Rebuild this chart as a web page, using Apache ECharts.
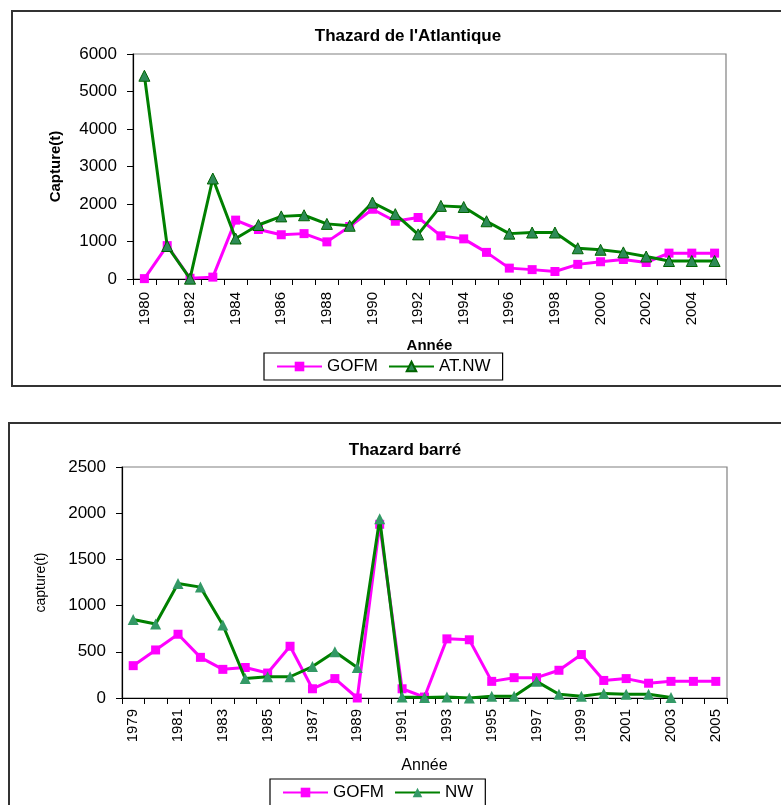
<!DOCTYPE html>
<html>
<head>
<meta charset="utf-8">
<script src="https://cdn.jsdelivr.net/npm/echarts@6/dist/echarts.min.js"></script>
<style>
html,body{margin:0;padding:0;background:#fff;}
#c{width:781px;height:805px;}
</style>
</head>
<body>
<div id="c"></div>
<script>
// ---- Top chart: Thazard de l'Atlantique ----
const yearsTop = ['1980','1981','1982','1983','1984','1985','1986','1987','1988','1989','1990','1991','1992','1993','1994','1995','1996','1997','1998','1999','2000','2001','2002','2003','2004','2005'];
const gofmTop = [10,890,20,50,1570,1320,1180,1210,990,1400,1860,1540,1640,1150,1070,710,290,250,200,390,460,520,440,690,690,690];
const atnwTop = [5420,880,10,2680,1080,1440,1670,1700,1470,1420,2040,1730,1190,1950,1920,1540,1210,1240,1240,820,780,710,600,480,480,480];
const yTicksTop = [0,1000,2000,3000,4000,5000,6000];

// ---- Bottom chart: Thazard barré ----
const yearsBot = ['1979','1980','1981','1982','1983','1984','1985','1986','1987','1988','1989','1990','1991','1992','1993','1994','1995','1996','1997','1998','1999','2000','2001','2002','2003','2004','2005'];
const gofmBot = [350,520,690,440,310,330,270,560,100,210,0,1880,100,10,640,630,180,220,220,300,470,190,210,160,180,180,180];
const nwBot = [850,800,1240,1200,790,210,230,230,340,500,330,1940,10,5,10,0,20,20,180,40,20,50,40,40,5,null,null];
const yTicksBot = [0,500,1000,1500,2000,2500];

const FONT = '"Liberation Sans", Arial, sans-serif';
const PINK = '#FF00FF';
const GREEN = '#008000';

const chart = echarts.init(document.getElementById('c'), null, {renderer:'canvas'});

function xAxisCfg(gridIndex, data, nameGap, bold, nameSize, labelMargin){
  return {
    type:'category', gridIndex, data, boundaryGap:true,
    name:'Année', nameLocation:'middle', nameGap,
    nameTextStyle:{fontFamily:FONT, fontSize:nameSize, fontWeight:bold?'bold':'normal', color:'#000'},
    axisLine:{show:true, lineStyle:{color:'#000', width:1.2}},
    axisTick:{show:true, interval:0, length:6, lineStyle:{color:'#000'}},
    axisLabel:{interval:1, rotate:90, margin:labelMargin, fontFamily:FONT, fontSize:15, color:'#000'},
    splitLine:{show:false}
  };
}
function yAxisCfg(gridIndex, ticks, name, nameGap, bold, nameSize){
  return {
    type:'value', gridIndex, min:ticks[0], max:ticks[ticks.length-1], interval:ticks[1]-ticks[0],
    name, nameLocation:'middle', nameGap, nameRotate:90,
    nameTextStyle:{fontFamily:FONT, fontSize:nameSize, fontWeight:bold?'bold':'normal', color:'#000'},
    axisLine:{show:true, lineStyle:{color:'#000', width:1.2}},
    axisTick:{show:true, length:6, lineStyle:{color:'#000'}},
    axisLabel:{margin:16, fontFamily:FONT, fontSize:17, color:'#000', formatter:(v)=>String(v)},
    splitLine:{show:false}
  };
}

const option = {
  animation:false,
  backgroundColor:'#fff',
  title:[
    {text:"Thazard de l'Atlantique", left:403, top:23, textAlign:'center',
     textStyle:{fontFamily:FONT, fontSize:17, fontWeight:'bold', color:'#000'}},
    {text:'Thazard barré', left:400, top:437, textAlign:'center',
     textStyle:{fontFamily:FONT, fontSize:17, fontWeight:'bold', color:'#000'}}
  ],
  grid:[
    {left:133, top:54, width:593, height:225, show:true, borderColor:'#808080', borderWidth:1.2, backgroundColor:'transparent'},
    {left:122, top:467, width:605, height:231, show:true, borderColor:'#808080', borderWidth:1.2, backgroundColor:'transparent'}
  ],
  xAxis:[
    xAxisCfg(0, yearsTop, 59, true, 15, 13),
    xAxisCfg(1, yearsBot, 60, false, 16, 11)
  ],
  yAxis:[
    yAxisCfg(0, yTicksTop, 'Capture(t)', 70, true, 15),
    yAxisCfg(1, yTicksBot, 'capture(t)', 74, false, 14)
  ],
  legend:[
    {data:['GOFM','AT.NW'], left:264, top:353, orient:'horizontal',
     itemWidth:45, itemHeight:12, itemGap:10, padding:[5,12,5,12],
     borderColor:'#000', borderWidth:1.2, backgroundColor:'#fff',
     textStyle:{fontFamily:FONT, fontSize:17, color:'#000'}},
    {data:['GOFM','NW'], left:270, top:779, orient:'horizontal',
     itemWidth:45, itemHeight:12, itemGap:10, padding:[5,12,5,12],
     borderColor:'#000', borderWidth:1.2, backgroundColor:'#fff',
     textStyle:{fontFamily:FONT, fontSize:17, color:'#000'}}
  ],
  graphic:[
    {type:'rect', shape:{x:12, y:11, width:800, height:375}, style:{fill:'none', stroke:'#333', lineWidth:2}, silent:true, z:-1},
    {type:'rect', shape:{x:9, y:423, width:800, height:420}, style:{fill:'none', stroke:'#333', lineWidth:2}, silent:true, z:-1}
  ],
  series:[
    {name:'GOFM', type:'line', xAxisIndex:0, yAxisIndex:0, data:gofmTop,
     symbol:'rect', symbolSize:9, lineStyle:{color:PINK, width:3}, itemStyle:{color:PINK}, z:2},
    {name:'AT.NW', type:'line', xAxisIndex:0, yAxisIndex:0, data:atnwTop,
     symbol:'triangle', symbolSize:11, lineStyle:{color:GREEN, width:3},
     itemStyle:{color:'#2E8B57', borderColor:'#006400', borderWidth:1}, z:3},
    {name:'GOFM', type:'line', xAxisIndex:1, yAxisIndex:1, data:gofmBot,
     symbol:'rect', symbolSize:9, lineStyle:{color:PINK, width:3}, itemStyle:{color:PINK}, z:2},
    {name:'NW', type:'line', xAxisIndex:1, yAxisIndex:1, data:nwBot, connectNulls:false,
     symbol:'triangle', symbolSize:11, lineStyle:{color:GREEN, width:3},
     itemStyle:{color:'#339966', borderColor:'#339966', borderWidth:0}, z:3}
  ]
};
chart.setOption(option);
</script>
</body>
</html>
